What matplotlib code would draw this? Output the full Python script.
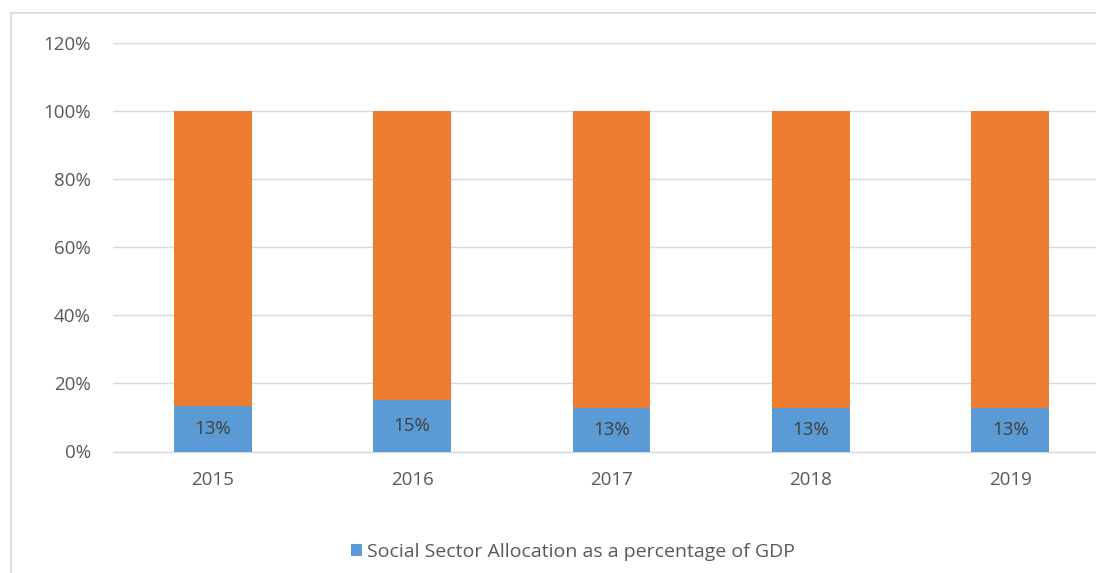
import numpy as np
import matplotlib.pyplot as plt
from matplotlib.patches import Rectangle

# Social sector share of GDP by year (remainder stacked on top up to 100%)
years = ['2015', '2016', '2017', '2018', '2019']
social_share = [0.134, 0.150, 0.128, 0.128, 0.128]
other_share = [1 - v for v in social_share]
y_ticks = [0, 0.2, 0.4, 0.6, 0.8, 1.0, 1.2]

blue = '#5B9BD5'
orange = '#ED7D31'
grid_c = '#D9D9D9'
text_c = '#595959'
fs = 13.5

plt.rcParams['font.family'] = ['Open Sans', 'DejaVu Sans']

fig = plt.figure(figsize=(10.96, 5.73), dpi=100)
ax = fig.add_axes([113 / 1096, 121.5 / 573, 997 / 1096, 408.5 / 573])

x = np.arange(len(years))
width = 0.39
b1 = ax.bar(x, social_share, width, color=blue, zorder=3,
            label='Social Sector Allocation as a percentage of GDP')
b2 = ax.bar(x, other_share, width, bottom=social_share, color=orange, zorder=3)

for xi, v in zip(x, social_share):
    ax.text(xi, v / 2, f'{v:.0%}', ha='center', va='center',
            fontsize=fs, color='#404040', zorder=4)

ax.set_xlim(-0.5, len(years) - 0.5)
ax.set_ylim(0, 1.2)
ax.set_yticks(y_ticks)
ax.set_yticklabels([f'{t:.0%}' for t in y_ticks])
ax.set_xticks(x)
ax.set_xticklabels(years)
ax.tick_params(length=0, labelsize=fs, labelcolor=text_c)
ax.tick_params(axis='y', pad=16)
ax.tick_params(axis='x', pad=14)
ax.grid(axis='y', color=grid_c, lw=1, zorder=0)
for s in ['top', 'right', 'left']:
    ax.spines[s].set_visible(False)
ax.spines['bottom'].set_color(grid_c)
ax.spines['bottom'].set_linewidth(1)

# chart frame (right and bottom edges fall outside the image)
fig.patches.append(Rectangle((11 / 1096, -0.1), 1.2, 1 - 13 / 573 + 0.1,
                             transform=fig.transFigure, fill=False,
                             edgecolor=grid_c, lw=1.2))

fig.legend(handles=[b1], loc='center', bbox_to_anchor=(573 / 1096, 1 - 552 / 573),
           frameon=False, fontsize=14, labelcolor=text_c,
           handlelength=0.6, handleheight=0.6, handletextpad=0.25)

fig.savefig('out.png', dpi=100)
